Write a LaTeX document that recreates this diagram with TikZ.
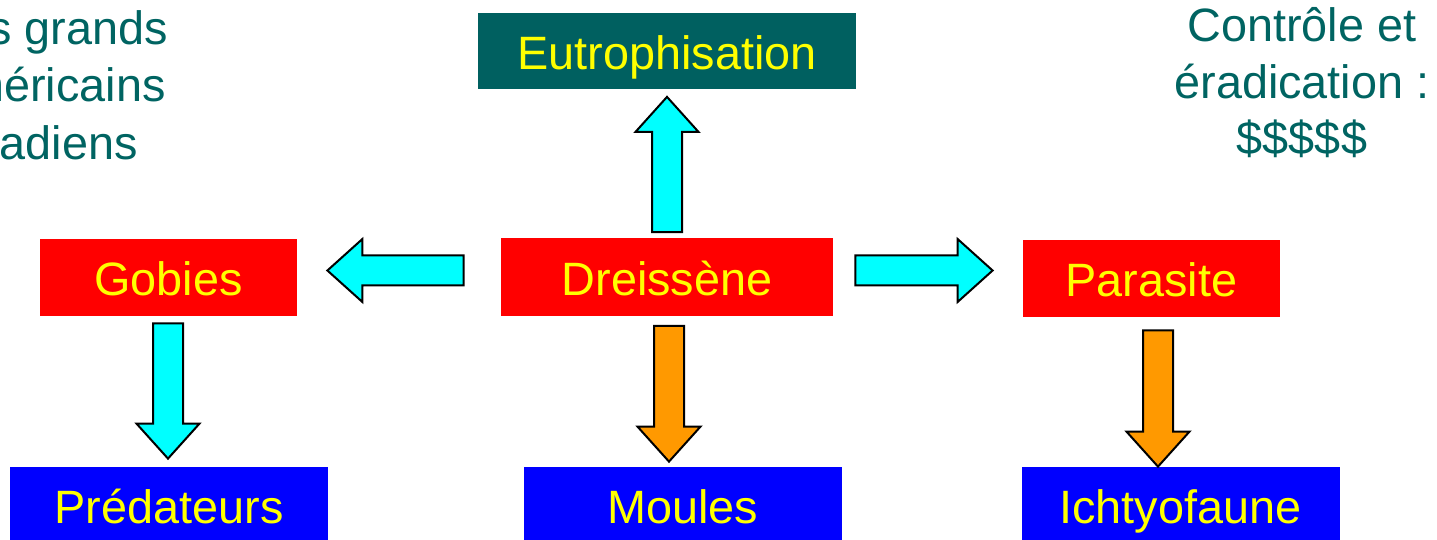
\documentclass[tikz,border=0pt]{standalone}
\usepackage{fontspec}
\setmainfont{Liberation Sans}
\usetikzlibrary{calc}
\definecolor{tealbox}{RGB}{0,96,96}
\definecolor{tealtext}{RGB}{0,100,98}
\definecolor{cyanarrow}{RGB}{0,255,255}
\definecolor{orangearrow}{RGB}{255,153,0}
\definecolor{yellowtext}{RGB}{255,255,0}
\tikzset{
  box/.style={inner sep=0pt, text=yellowtext, font=\fontsize{23.4}{28}\selectfont,
    text height=18pt, text depth=0pt},
  tealnode/.style={box, fill=tealbox, minimum width=189pt, minimum height=38pt},
  rednode/.style={box, fill=red, minimum width=128.5pt, minimum height=38.5pt},
  bluenode/.style={box, fill=blue, minimum width=159pt, minimum height=38pt},
  note/.style={inner sep=0pt, text=tealtext, font=\fontsize{23.4}{28}\selectfont},
  blockarrow/.style={draw=black, line width=1pt, line join=miter},
}
\newcommand\drawblockarrow[3]{%
  \coordinate (hb) at ($(#2)!17.5pt!(#1)$);
  \filldraw[blockarrow, fill=#3]
    ($(#1)!7.5pt!90:(#2)$) -- ($(hb)!7.5pt!90:(#2)$) -- ($(hb)!15.75pt!90:(#2)$)
    -- (#2) -- ($(hb)!15.75pt!-90:(#2)$) -- ($(hb)!7.5pt!-90:(#2)$)
    -- ($(#1)!7.5pt!-90:(#2)$) -- cycle;
}
\begin{document}
\begin{tikzpicture}[x=0.5pt,y=-0.5pt]
\useasboundingbox (0,0) rectangle (1437,540);
% boxes
\node[tealnode] (eut) at (667,51.5) {Eutrophisation};
\node[rednode, minimum width=166pt] (dre) at (667,277) {Dreissène};
\node[rednode] (gob) at (168.5,277.5) {Gobies};
\node[rednode] (par) at (1151.5,278.5) {Parasite};
\node[bluenode] (pre) at (169,505) {Prédateurs};
\node[bluenode] (mou) at (682.5,505) {Moules};
\node[bluenode] (ich) at (1180.5,505) {Ichtyofaune};
% notes
\node[note, anchor=base east] (n1) at (168,45) {s grands};
\node[note, anchor=base east] (n2) at (166,102) {méricains};
\node[note, anchor=base east] (n3) at (138,160) {adiens};
\node[note, anchor=base] (c1) at (1302,42) {Contrôle et};
\node[note, anchor=base] (c2) at (1302,99) {éradication :};
\node[note, anchor=base] (c3) at (1302,155) {\$\$\$\$\$};
% arrow end points
\coordinate (upA) at ($(dre.north)+(0,-6)$);
\coordinate (upB) at ($(eut.south)+(0,7)$);
\coordinate (lfA) at ($(dre.west)+(-37,-6.5)$);
\coordinate (lfB) at ($(gob.east)+(30,-7)$);
\coordinate (rtA) at ($(dre.east)+(22,-6.5)$);
\coordinate (rtB) at ($(par.west)+(-30,-8)$);
\coordinate (gdA) at ($(gob.south)+(-0.5,7)$);
\coordinate (gdB) at ($(gdA |- pre.north)+(0,-8)$);
\coordinate (ddA) at ($(dre.south)+(2,10)$);
\coordinate (ddB) at ($(ddA |- mou.north)+(0,-5)$);
\coordinate (pdA) at ($(par.south)+(6.5,13)$);
\coordinate (pdB) at (pdA |- ich.north);
% arrows
\drawblockarrow{upA}{upB}{cyanarrow}
\drawblockarrow{lfA}{lfB}{cyanarrow}
\drawblockarrow{rtA}{rtB}{cyanarrow}
\drawblockarrow{gdA}{gdB}{cyanarrow}
\drawblockarrow{ddA}{ddB}{orangearrow}
\drawblockarrow{pdA}{pdB}{orangearrow}
\end{tikzpicture}
\end{document}
